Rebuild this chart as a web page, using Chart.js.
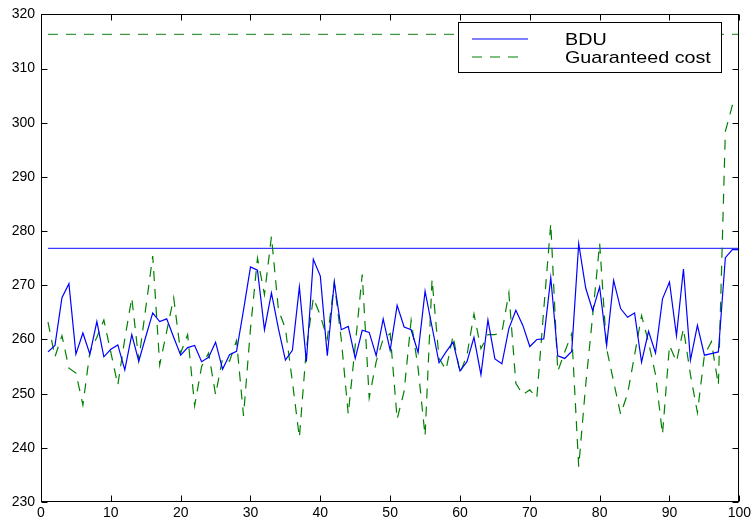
<!DOCTYPE html>
<html>
<head>
<meta charset="utf-8">
<script src="https://cdn.jsdelivr.net/npm/chart.js@4.4.1/dist/chart.umd.min.js"></script>
<style>
  html, body { margin:0; padding:0; background:#fff; }
  #wrap { width:754px; height:520px; }
</style>
</head>
<body>
<div id="wrap"><canvas id="chart" width="754" height="520"></canvas></div>
<script>
// ─── Data ─────────────────────────────────────────────────────────────────────
const RUNS = Array.from({length:100}, (_, i) => i + 1);

const BDU = [
  257.7, 258.9, 267.7, 270.3, 257.3, 261.2, 257.3, 263.3, 256.8, 258.2,
  259.0, 254.4, 260.9, 256.0, 260.5, 264.9, 263.3, 263.8, 260.4, 257.1,
  258.5, 258.9, 255.9, 256.7, 259.5, 254.5, 257.2, 257.8, 265.4, 273.4,
  272.8, 261.8, 268.6, 262.0, 256.2, 258.0, 269.7, 255.9, 274.8, 271.7,
  257.0, 270.6, 261.8, 262.4, 256.5, 261.7, 261.3, 257.0, 263.8, 258.0,
  266.3, 262.3, 261.8, 257.6, 268.9, 262.3, 255.7, 257.7, 259.5, 254.2,
  255.9, 260.4, 253.5, 263.6, 256.4, 255.5, 262.0, 265.4, 262.6, 258.7,
  260.0, 260.1, 271.4, 257.0, 256.5, 257.8, 277.7, 269.5, 265.3, 269.7,
  258.9, 270.9, 265.7, 264.1, 264.9, 255.8, 261.5, 257.5, 267.5, 270.6,
  260.7, 273.0, 256.2, 262.6, 257.1, 257.4, 257.7, 275.1, 276.6, 276.6
];

const GUARANTEED = [
  263.2, 256.8, 260.7, 254.7, 253.8, 247.9, 257.7, 260.4, 263.6, 257.6,
  251.6, 260.1, 267.7, 256.2, 265.8, 275.4, 255.3, 261.5, 267.7, 257.5,
  260.9, 247.8, 255.0, 257.5, 249.8, 256.5, 256.0, 259.8, 245.9, 262.0,
  275.0, 268.3, 279.0, 265.5, 262.0, 252.2, 241.9, 258.3, 267.7, 264.4,
  260.1, 270.5, 260.0, 246.2, 258.9, 272.0, 249.2, 255.9, 260.1, 261.1,
  245.3, 250.4, 263.5, 254.7, 242.2, 271.1, 256.5, 254.4, 260.7, 253.8,
  257.1, 264.7, 258.3, 260.9, 260.9, 261.3, 268.6, 251.9, 249.8, 250.7,
  249.2, 265.6, 281.4, 254.1, 257.7, 261.1, 236.5, 251.6, 264.4, 277.7,
  258.3, 252.2, 246.2, 250.0, 257.1, 264.4, 259.5, 253.5, 242.5, 258.9,
  255.9, 262.0, 253.5, 246.5, 257.1, 259.6, 251.6, 298.4, 303.2, 303.1
];

const BDU_BOUND = 276.8;
const GUARANTEED_BOUND = 316.3;

const X_TICKS = [0, 10, 20, 30, 40, 50, 60, 70, 80, 90, 100];
const Y_TICKS = [230, 240, 250, 260, 270, 280, 290, 300, 310, 320];
const LEGEND_LABELS = ['BDU', 'Guaranteed cost'];

// ─── Style ────────────────────────────────────────────────────────────────────
const BLUE = '#0000ff';
const GREEN = '#008000';
const DASH = [10, 8];
const FONT = "Arial, 'Liberation Sans', Arimo, Helvetica, sans-serif";

const pts = ys => RUNS.map((x, i) => ({x, y: ys[i]}));
const flat = v => RUNS.map(x => ({x, y: v}));

// inward ticks on all four sides + box + legend, MATLAB style
const framePlugin = {
  id: 'frame',
  afterDatasetsDraw(chart) {
    const {ctx, chartArea: a, scales: {x, y}} = chart;
    const L = Math.round(a.left) + 0.5, R = Math.round(a.right) - 0.5;
    const T = Math.round(a.top) + 0.5, B = Math.round(a.bottom) - 0.5;
    const TL = 6;
    ctx.save();
    ctx.strokeStyle = '#000';
    ctx.lineWidth = 1;
    ctx.beginPath();
    X_TICKS.forEach(v => {
      const px = Math.round(x.getPixelForValue(v)) + 0.5;
      ctx.moveTo(px, B); ctx.lineTo(px, B - TL);
      ctx.moveTo(px, T); ctx.lineTo(px, T + TL);
    });
    Y_TICKS.forEach(v => {
      const py = Math.round(y.getPixelForValue(v)) + 0.5;
      ctx.moveTo(L, py); ctx.lineTo(L + TL, py);
      ctx.moveTo(R, py); ctx.lineTo(R - TL, py);
    });
    ctx.stroke();
    ctx.strokeRect(L, T, R - L, B - T);

    // legend box
    const bx = 458.5, by = 22.5, bw = 263, bh = 50;
    ctx.fillStyle = '#fff';
    ctx.fillRect(bx, by, bw, bh);
    ctx.strokeRect(bx, by, bw, bh);
    const rows = [
      {label: LEGEND_LABELS[0], color: '#5555ff', dash: [], y: 39},
      {label: LEGEND_LABELS[1], color: '#55aa55', dash: DASH, y: 57},
    ];
    rows.forEach(r => {
      ctx.strokeStyle = r.color;
      ctx.setLineDash(r.dash);
      ctx.lineWidth = 1.5;
      ctx.beginPath();
      ctx.moveTo(472, r.y); ctx.lineTo(522, r.y);
      if (!r.dash.length) ctx.lineTo(528, r.y);
      ctx.stroke();
      ctx.setLineDash([]);
      ctx.fillStyle = '#000';
      ctx.font = `17px ${FONT}`;
      ctx.textBaseline = 'middle';
      ctx.textAlign = 'left';
      ctx.save();
      ctx.translate(565, r.y + 1);
      ctx.scale(1.16, 1);
      ctx.fillText(r.label, 0, 0);
      ctx.restore();
    });
    ctx.restore();
  }
};

new Chart(document.getElementById('chart').getContext('2d'), {
  type: 'line',
  data: {
    datasets: [
      { label: 'BDU', data: pts(BDU), borderColor: BLUE, borderWidth: 1.2, pointRadius: 0, tension: 0 },
      { label: 'Guaranteed cost', data: pts(GUARANTEED), borderColor: GREEN, borderWidth: 1.2,
        borderDash: DASH, pointRadius: 0, tension: 0 },
      { label: 'BDU bound', data: flat(BDU_BOUND), borderColor: '#3a3aff', borderWidth: 1.2, pointRadius: 0 },
      { label: 'Guaranteed bound', data: flat(GUARANTEED_BOUND), borderColor: '#3f9a3f', borderWidth: 1.2,
        borderDash: DASH, pointRadius: 0 },
    ]
  },
  options: {
    responsive: false,
    animation: false,
    layout: { padding: { top: 10, right: 14, left: 0, bottom: 0 } },
    plugins: { legend: { display: false }, tooltip: { enabled: false } },
    scales: {
      x: {
        type: 'linear', min: 0, max: 100,
        afterBuildTicks: s => { s.ticks = X_TICKS.map(v => ({value: v})); },
        afterFit: s => { s.height = 18; },
        ticks: { color: '#000', font: { family: FONT, size: 14 }, padding: 3, maxRotation: 0 },
        grid: { display: false, drawTicks: false },
        border: { display: false },
      },
      y: {
        min: 230, max: 320,
        afterBuildTicks: s => { s.ticks = Y_TICKS.map(v => ({value: v})); },
        afterFit: s => { s.width = 41; },
        ticks: { color: '#000', font: { family: FONT, size: 14 }, padding: 6 },
        grid: { display: false, drawTicks: false },
        border: { display: false },
      }
    }
  },
  plugins: [framePlugin]
});
</script>
</body>
</html>
